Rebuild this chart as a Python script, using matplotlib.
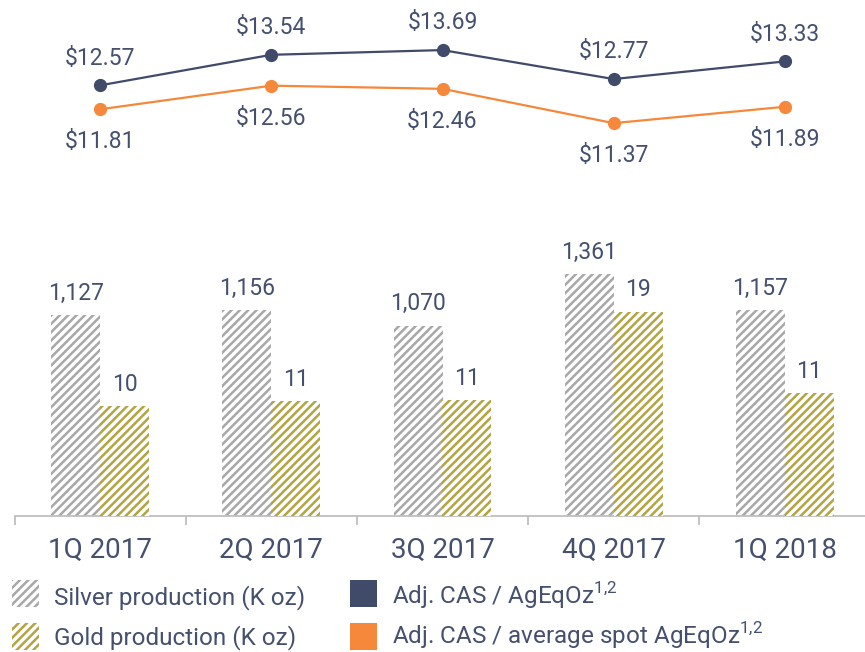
import matplotlib
matplotlib.use("Agg")
import matplotlib.pyplot as plt
from matplotlib.patches import Rectangle

plt.rcParams['font.family'] = ['Roboto', 'DejaVu Sans']
plt.rcParams['hatch.linewidth'] = 1.8

# data
quarters = ['1Q 2017', '2Q 2017', '3Q 2017', '4Q 2017', '1Q 2018']
silver = [1127, 1156, 1070, 1361, 1157]
gold = [10.2, 10.7, 10.8, 19.0, 11.4]
cas = [12.57, 13.54, 13.69, 12.77, 13.33]
cas_spot = [11.81, 12.56, 12.46, 11.37, 11.89]

txt_col = '#44506e'
navy = '#404b69'
orange = '#f5883a'
grey = '#a8a8a8'
olive = '#b3a444'

W, H = 865, 652
fig = plt.figure(figsize=(W / 100, H / 100), dpi=100)

def fx(px):
    return px / W

def fy(py):
    return 1 - py / H

x0, x1 = 14.5, 870.5
x = list(range(len(quarters)))

# line chart on top
ax_l = fig.add_axes([fx(x0), fy(200), fx(x1 - x0), 200 / H])
ax_l.set_xlim(-0.5, 4.5)
ax_l.set_ylim(8.93, 15.28)
ax_l.axis('off')
ax_l.plot(x, cas, color=navy, lw=1.6, marker='o', ms=8.5, zorder=3)
ax_l.plot(x, cas_spot, color=orange, lw=1.6, marker='o', ms=8.5, zorder=3)
for i in x:
    ax_l.annotate(f'${cas[i]:.2f}', (i, cas[i]), xytext=(0, 15), textcoords='offset points',
                  ha='center', va='baseline', fontsize=16.5, color=txt_col)
    ax_l.annotate(f'${cas_spot[i]:.2f}', (i, cas_spot[i]), xytext=(0, -28), textcoords='offset points',
                  ha='center', va='baseline', fontsize=16.5, color=txt_col)

# bar chart
ax_b = fig.add_axes([fx(x0), fy(516), fx(x1 - x0), 296 / H])
ax_b.set_xlim(-0.5, 4.5)
ax_b.set_ylim(0, 296 * 5.62)
ax_g = ax_b.twinx()
ax_g.set_ylim(0, 296 / 10.75)

bw = 0.286
ax_b.bar([i - bw / 2 for i in x], silver, width=bw, facecolor='white', edgecolor=grey,
         hatch='////', linewidth=0)
ax_g.bar([i + bw / 2 for i in x], gold, width=bw, facecolor='white', edgecolor=olive,
         hatch='////', linewidth=0)
for i in x:
    ax_b.annotate(f'{silver[i]:,}', (i - bw / 2, silver[i]), xytext=(0, 11), textcoords='offset points',
                  ha='center', va='baseline', fontsize=16.5, color=txt_col)
    ax_g.annotate(f'{gold[i]:.0f}', (i + bw / 2, gold[i]), xytext=(0, 11), textcoords='offset points',
                  ha='center', va='baseline', fontsize=16.5, color=txt_col)

for a in (ax_b, ax_g):
    for s in ('top', 'right', 'left'):
        a.spines[s].set_visible(False)
    a.set_yticks([])
ax_g.spines['bottom'].set_visible(False)
ax_b.spines['bottom'].set_color('#bfbfbf')
ax_b.spines['bottom'].set_linewidth(1.3)
ax_b.set_xticks([i - 0.5 for i in range(len(quarters) + 1)])
ax_b.set_xticklabels([])
ax_b.tick_params(axis='x', which='major', length=6.5, width=1.3, color='#bfbfbf')
ax_b.set_xticks(x, minor=True)
ax_b.set_xticklabels(quarters, minor=True, fontsize=20, color=txt_col)
ax_b.tick_params(axis='x', which='minor', length=0, pad=15)

# legend
sup = r'$^{\mathregular{1{,}2}}$'
legend_items = [
    (12, 580, 604, grey, '////', 'Silver production (K oz)'),
    (12, 623, 644, olive, '////', 'Gold production (K oz)'),
    (350, 580, 604, navy, None, 'Adj. CAS / AgEqOz' + sup),
    (350, 623, 644, orange, None, 'Adj. CAS / average spot AgEqOz' + sup),
]
for lx, ly, tb, col, hatch, label in legend_items:
    if hatch:
        r = Rectangle((fx(lx), fy(ly + 27)), fx(27), 27 / H, transform=fig.transFigure,
                      facecolor='white', edgecolor=col, hatch=hatch, linewidth=0)
    else:
        r = Rectangle((fx(lx), fy(ly + 27)), fx(27), 27 / H, transform=fig.transFigure,
                      facecolor=col, edgecolor='none')
    fig.add_artist(r)
    fig.text(fx(lx + 42), fy(tb), label, ha='left', va='baseline', fontsize=17.5, color=txt_col)

fig.savefig('out.png', dpi=100)
